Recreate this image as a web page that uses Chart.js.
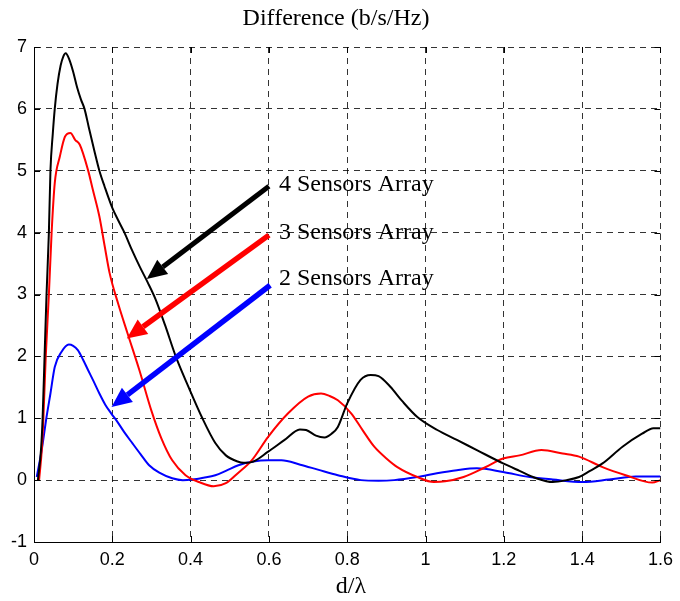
<!DOCTYPE html>
<html>
<head>
<meta charset="utf-8">
<script src="https://cdn.jsdelivr.net/npm/chart.js@4/dist/chart.umd.min.js"></script>
<style>
html,body{margin:0;padding:0;background:#fff;}
#wrap{width:680px;height:601px;}
</style>
</head>
<body>
<div id="wrap"><canvas id="c" width="680" height="601"></canvas></div>
<script>
const chartTitle = "Difference (b/s/Hz)";
const xAxisTitle = "d/\u03bb";
const xTicks = [0, 0.2, 0.4, 0.6, 0.8, 1, 1.2, 1.4, 1.6];
const yTicks = [-1, 0, 1, 2, 3, 4, 5, 6, 7];
const seriesNames = ["4 Sensors Array", "3 Sensors Array", "2 Sensors Array"];

const x4 = [0.01,0.018,0.022,0.027,0.032,0.038,0.042,0.048,0.053,0.06,0.068,0.075,0.081,0.09,0.1,0.11,0.12,0.129,0.14,0.155,0.167,0.18,0.2,0.215,0.231,0.25,0.27,0.29,0.31,0.335,0.362,0.395,0.43,0.463,0.49,0.52,0.535,0.56,0.598,0.64,0.679,0.695,0.72,0.742,0.76,0.776,0.8,0.834,0.86,0.88,0.91,0.94,0.979,1.03,1.08,1.131,1.198,1.24,1.283,1.325,1.36,1.392,1.42,1.452,1.503,1.553,1.582,1.6];
const y4 = [0,0.5,1.0,2.0,3.0,4.0,5.0,5.6,6.0,6.4,6.7,6.85,6.9,6.8,6.6,6.35,6.15,6.0,5.7,5.3,5.0,4.75,4.4,4.2,4.0,3.72,3.45,3.2,2.93,2.5,2.0,1.5,1.0,0.6,0.4,0.3,0.28,0.3,0.46,0.65,0.82,0.81,0.72,0.69,0.75,0.86,1.24,1.62,1.70,1.68,1.51,1.28,1.02,0.81,0.65,0.485,0.27,0.15,0.03,-0.03,0.0,0.05,0.15,0.27,0.54,0.75,0.84,0.84];

const x3 = [0.013,0.02,0.024,0.03,0.038,0.045,0.053,0.066,0.079,0.093,0.105,0.117,0.138,0.15,0.167,0.18,0.193,0.215,0.239,0.269,0.3,0.325,0.353,0.387,0.421,0.459,0.49,0.522,0.556,0.598,0.649,0.7,0.733,0.755,0.776,0.81,0.84,0.869,0.9,0.928,0.979,1.021,1.05,1.097,1.15,1.198,1.24,1.296,1.35,1.392,1.452,1.511,1.579,1.6];
const y3 = [0,0.5,1.0,2.0,3.0,4.0,4.8,5.23,5.55,5.61,5.5,5.42,5.01,4.7,4.26,3.8,3.35,2.85,2.37,1.78,1.12,0.68,0.32,0.08,-0.03,-0.1,-0.05,0.12,0.32,0.7,1.08,1.35,1.4,1.36,1.29,1.08,0.8,0.54,0.35,0.21,0.05,-0.03,-0.02,0.05,0.2,0.35,0.4,0.485,0.43,0.38,0.21,0.08,-0.04,0.0];

const x2 = [0.007,0.02,0.032,0.042,0.053,0.07,0.089,0.1,0.112,0.125,0.138,0.152,0.167,0.182,0.197,0.21,0.23,0.252,0.272,0.294,0.32,0.353,0.38,0.404,0.433,0.463,0.49,0.522,0.56,0.598,0.632,0.68,0.725,0.776,0.835,0.88,0.92,0.979,1.029,1.08,1.131,1.198,1.266,1.325,1.401,1.469,1.537,1.6];
const y2 = [0.05,0.5,1.02,1.4,1.83,2.07,2.19,2.17,2.1,1.95,1.78,1.6,1.4,1.22,1.08,0.97,0.78,0.59,0.42,0.24,0.12,0.03,0.0,0.01,0.04,0.08,0.15,0.24,0.3,0.32,0.32,0.25,0.17,0.08,0.0,-0.01,0.0,0.05,0.11,0.16,0.19,0.13,0.05,0.01,-0.03,0.01,0.06,0.06];

// annotation arrows in data coordinates: [fromX, fromY, toX, toY]
const arrow4 = [0.6, 4.75, 0.288, 3.25];
const arrow3 = [0.6, 3.96, 0.237, 2.29];
const arrow2 = [0.603, 3.15, 0.198, 1.18];

const pts = (xs, ys) => xs.map((x, i) => ({x: x, y: ys[i]}));

const annot = {
  id: 'annot',
  afterDatasetsDraw(chart) {
    const ctx = chart.ctx;
    const xs = chart.scales.x, ys = chart.scales.y;
    const ca = chart.chartArea;
    ctx.save();
    ctx.strokeStyle = '#000';
    ctx.lineWidth = 1;
    ctx.setLineDash([]);
    const tl = 6;
    xTicks.forEach(v => {
      const px = Math.round(xs.getPixelForValue(v)) + 0.5;
      ctx.beginPath();
      ctx.moveTo(px, ca.bottom); ctx.lineTo(px, ca.bottom - tl);
      ctx.moveTo(px, ca.top); ctx.lineTo(px, ca.top + tl);
      ctx.stroke();
    });
    yTicks.forEach(v => {
      const py = Math.round(ys.getPixelForValue(v)) + 0.5;
      ctx.beginPath();
      ctx.moveTo(ca.left, py); ctx.lineTo(ca.left + tl, py);
      ctx.moveTo(ca.right, py); ctx.lineTo(ca.right - tl, py);
      ctx.stroke();
    });
    const drawArrow = (a, color, lw) => {
      const x1 = xs.getPixelForValue(a[0]), y1 = ys.getPixelForValue(a[1]);
      const x2 = xs.getPixelForValue(a[2]), y2 = ys.getPixelForValue(a[3]);
      const ang = Math.atan2(y2 - y1, x2 - x1);
      const hl = 20, hw = 9;
      const bx = x2 - hl * Math.cos(ang), by = y2 - hl * Math.sin(ang);
      ctx.strokeStyle = color; ctx.fillStyle = color;
      ctx.lineWidth = lw; ctx.lineCap = 'butt';
      ctx.beginPath(); ctx.moveTo(x1, y1); ctx.lineTo(bx, by); ctx.stroke();
      ctx.beginPath();
      ctx.moveTo(x2, y2);
      ctx.lineTo(bx + hw * Math.sin(ang), by - hw * Math.cos(ang));
      ctx.lineTo(bx - hw * Math.sin(ang), by + hw * Math.cos(ang));
      ctx.closePath(); ctx.fill();
    };
    drawArrow(arrow4, '#000000', 5);
    drawArrow(arrow3, '#ff0000', 5.5);
    drawArrow(arrow2, '#0000ff', 5.5);
    ctx.fillStyle = '#000';
    ctx.font = '24px "Liberation Serif", "Times New Roman", serif';
    ctx.textAlign = 'left'; ctx.textBaseline = 'middle';
    ctx.fillText(seriesNames[0], 279, 185);
    ctx.fillText(seriesNames[1], 279, 233);
    ctx.fillText(seriesNames[2], 279, 279);
    ctx.textAlign = 'center';
    ctx.font = '24px "Liberation Serif", "Times New Roman", serif';
    ctx.fillText(chartTitle, 336, 19);
    ctx.fillText(xAxisTitle, 351, 587);
    ctx.restore();
  }
};

const fmt = v => String(parseFloat(Number(v).toFixed(1)));

new Chart(document.getElementById('c'), {
  type: 'line',
  data: {
    datasets: [
      {label: seriesNames[0], data: pts(x4, y4), borderColor: '#000000', borderWidth: 2, pointRadius: 0, cubicInterpolationMode: 'monotone', fill: false},
      {label: seriesNames[1], data: pts(x3, y3), borderColor: '#ff0000', borderWidth: 2, pointRadius: 0, cubicInterpolationMode: 'monotone', fill: false},
      {label: seriesNames[2], data: pts(x2, y2), borderColor: '#0000ff', borderWidth: 2, pointRadius: 0, cubicInterpolationMode: 'monotone', fill: false}
    ]
  },
  options: {
    responsive: false,
    animation: false,
    devicePixelRatio: 1,
    layout: {padding: {left: 0, top: 47, right: 15, bottom: 0}},
    plugins: {legend: {display: false}, tooltip: {enabled: false}, title: {display: false}},
    scales: {
      x: {
        type: 'linear', min: 0, max: 1.6,
        afterBuildTicks: s => { s.ticks = xTicks.map(v => ({value: v})); },
        afterFit: s => { s.height = 59; },
        ticks: {color: '#000', padding: 7, maxRotation: 0, autoSkip: false, callback: fmt,
                font: {family: '"Liberation Sans", Arial, sans-serif', size: 18}},
        grid: {drawTicks: false, color: 'rgba(0,0,0,0.8)', lineWidth: 1, tickLength: 0},
        border: {display: true, color: '#000', width: 1, dash: [6, 5]}
      },
      y: {
        type: 'linear', min: -1, max: 7,
        afterBuildTicks: s => { s.ticks = yTicks.map(v => ({value: v})); },
        afterFit: s => { s.width = 34; },
        ticks: {color: '#000', padding: 7, autoSkip: false, callback: v => String(v),
                font: {family: '"Liberation Sans", Arial, sans-serif', size: 18}},
        grid: {drawTicks: false, color: 'rgba(0,0,0,0.8)', lineWidth: 1, tickLength: 0},
        border: {display: true, color: '#000', width: 1, dash: [6, 5]}
      }
    }
  },
  plugins: [annot]
});
</script>
</body>
</html>
